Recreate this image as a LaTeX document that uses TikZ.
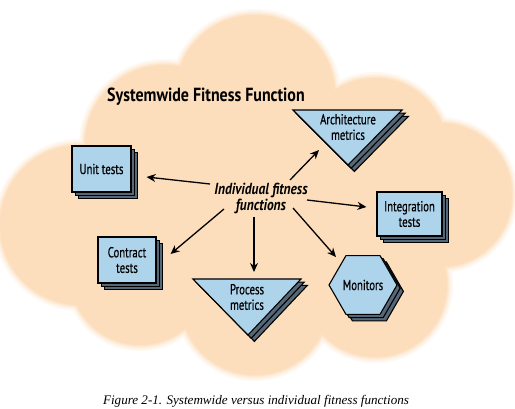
\documentclass[tikz,border=0pt]{standalone}
\usepackage{fontspec}
\setmainfont{Liberation Serif}
\newfontfamily\diafont[FakeStretch=0.74,FakeBold=0.6]{PT Sans}
\newfontfamily\titlefont[FakeStretch=0.84]{PT Sans}
\usetikzlibrary{shapes.geometric,shadows,arrows.meta}
\definecolor{cloudc}{RGB}{252,222,188}
\definecolor{boxc}{RGB}{174,212,236}
\definecolor{shadc}{RGB}{86,104,120}
\newcommand\cloudpath{(255pt,-95pt) circle (80pt) (165pt,-145pt) circle (80pt) (80pt,-225pt) circle (80pt) (375pt,-150pt) circle (72pt) (440pt,-195pt) circle (72pt) (140pt,-275pt) circle (70pt) (255pt,-300pt) circle (75pt) (375pt,-285pt) circle (72pt) (260pt,-210pt) circle (110pt)}
\begin{document}
\begin{tikzpicture}[x=1pt,y=-1pt,
  stackfill/.style={draw=black, fill=boxc, line width=1.1pt,
    double copy shadow={shadow xshift=3.2pt, shadow yshift=-3.2pt, fill=shadc, draw=black, line width=1.1pt}},
  stack/.style={stackfill, inner sep=0pt, align=center, font=\diafont\fontsize{14.5}{15.5}\selectfont},
  lbl/.style={align=center, font=\diafont\fontsize{14.5}{15.5}\selectfont, inner sep=0pt},
  arr/.style={line width=1.3pt, -{Stealth[length=9pt,width=8pt]}},
]
\useasboundingbox (0,0) rectangle (515,409);
% cloud with soft edge
\foreach \w/\c in {12/20, 8/40, 5/60, 2.5/80}{
  \draw[cloudc!\c!white, line width=\w pt] \cloudpath;
}
\fill[cloudc] \cloudpath;

% title
\node[font=\titlefont\bfseries\fontsize{19}{21}\selectfont, inner sep=0pt] (title) at (206,97) {Systemwide Fitness Function};

% boxes
\node[stack, minimum width=59pt, minimum height=46pt] (unit) at (101.5,169) {Unit tests};
\node[stack, minimum width=58pt, minimum height=46pt] (contract) at (127,260) {Contract\\tests};
\node[stack, minimum width=65pt, minimum height=44pt] (integ) at (409.5,214) {Integration\\tests};
\node[stack, regular polygon, regular polygon sides=6, minimum size=68pt] (mon) at (363,285) {Monitors};

% triangles
\filldraw[stackfill] (193,279) -- (301,279) -- (248,335) -- cycle;
\node[lbl] (proc) at (247,297) {Process\\metrics};
\filldraw[stackfill] (293,110) -- (402,110) -- (348,165) -- cycle;
\node[lbl] (arch) at (348,127) {Architecture\\metrics};

% central label
\node[align=center, inner sep=0pt, font=\titlefont\bfseries\itshape\fontsize{16}{16}\selectfont] (ind) at (261,198) {Individual fitness\\functions};

% arrows
\draw[arr] ([shift={(-51,-14)}]ind.center) -- ([shift={(15,8)}]unit.east);
\draw[arr] ([shift={(29,-18)}]ind.center) -- ([shift={(-29,23)}]arch.center);
\draw[arr] ([shift={(46,2)}]ind.center) -- ([shift={(-10,-7)}]integ.west);
\draw[arr] ([shift={(-37,11)}]ind.center) -- ([shift={(14,-6)}]contract.east);
\draw[arr] ([shift={(-7,19)}]ind.center) -- ([shift={(7,-25)}]proc.center);
\draw[arr] ([shift={(32,10)}]ind.center) -- ([shift={(-27,-28)}]mon.center);

% caption
\node[font=\itshape\fontsize{13.1}{15}\selectfont, inner sep=0pt] (cap) at (256,401) {Figure 2-1. Systemwide versus individual fitness functions};
\end{tikzpicture}
\end{document}
